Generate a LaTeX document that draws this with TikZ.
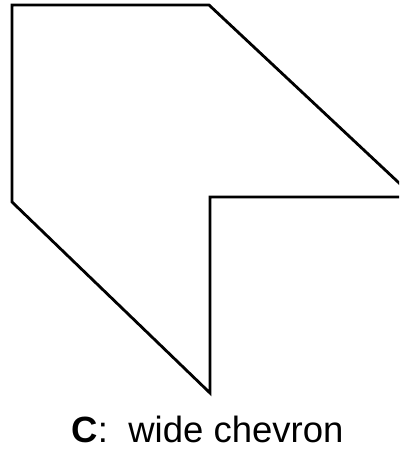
\documentclass[tikz,border=0pt]{standalone}
\usepackage{fontspec}
\setmainfont{Liberation Sans}
\begin{document}
\begin{tikzpicture}[x=1pt, y=1pt, every node/.style={font=\fontsize{36.5}{40}\selectfont}]
  \useasboundingbox (0,0) rectangle (399,454);
  \clip (0,0) rectangle (399,454);
  \draw[line width=2.8pt, line join=miter] (12,449) -- (209,449) -- (414,257) -- (210,257) -- (210,61) -- (12,252) -- cycle;
  \node[anchor=base, inner sep=0pt] (caption) at (207.5,11) {\textbf{C}:\ \ wide chevron};
\end{tikzpicture}
\end{document}
